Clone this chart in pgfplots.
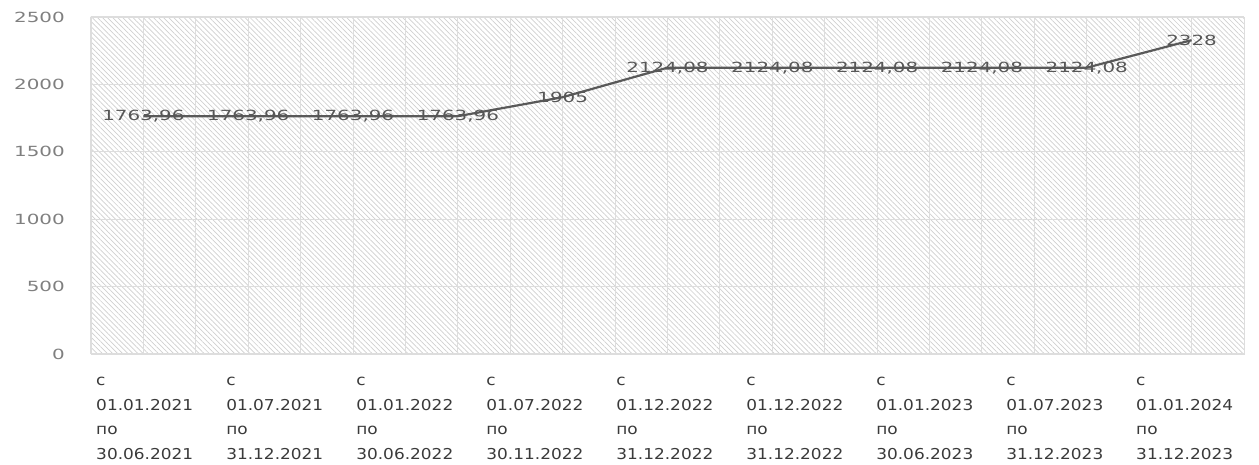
\documentclass[border=0pt]{standalone}
\usepackage{pgfplots}
\pgfplotsset{compat=1.18}
\usepackage{fontspec}
\setmainfont{DejaVu Sans}
\newfontfamily\wfont[FakeStretch=1.42]{DejaVu Sans}
\newfontfamily\dfont[FakeStretch=1.13]{DejaVu Sans}
\usetikzlibrary{patterns.meta}
\definecolor{lineg}{HTML}{595959}
\definecolor{tickg}{HTML}{7F7F7F}
\definecolor{labg}{HTML}{3A3A3A}
\definecolor{gridg}{HTML}{DDDDDD}
\begin{document}
\begin{tikzpicture}
\useasboundingbox (0,0) rectangle (1259pt,465pt);
\begin{axis}[
  at={(91pt,111pt)}, anchor=south west,
  width=1153pt, height=337pt, scale only axis,
  xmin=0, xmax=11, ymin=0, ymax=2500,
  ytick={0,500,...,2500},
  xtick={0.048,1.2885,2.529,3.77,5.01,6.25,7.49,8.73,9.97},
  xticklabels={
    {с\\01.01.2021\\по\\30.06.2021},
    {с\\01.07.2021\\по\\31.12.2021},
    {с\\01.01.2022\\по\\30.06.2022},
    {с\\01.07.2022\\по\\30.11.2022},
    {с\\01.12.2022\\по\\31.12.2022},
    {с\\01.12.2022\\по\\31.12.2022},
    {с\\01.01.2023\\по\\30.06.2023},
    {с\\01.07.2023\\по\\31.12.2023},
    {с\\01.01.2024\\по\\31.12.2023}},
  xticklabel style={anchor=north west, align=left, inner sep=0pt, yshift=-23pt,
    font=\dfont\fontsize{15}{24.5}\selectfont, text=labg},
  minor xtick={0,0.5,...,11},
  xminorgrids=true, xmajorgrids=false, ymajorgrids=true,
  minor x grid style={gridg, line width=1pt},
  major y grid style={gridg, line width=1pt},
  major tick length=0pt, minor tick length=0pt,
  axis line style={draw=gridg},
  yticklabel style={anchor=east, inner sep=0pt, xshift=-26pt,
    font=\wfont\fontsize{14}{16}\selectfont, text=tickg},
  /pgf/number format/assume math mode=true,
  /pgf/number format/1000 sep={},
  axis background/.style={pattern={Lines[angle=-45, distance=3.6pt, line width=0.7pt]}, pattern color=black!19},
  clip=false,
]
\addplot[lineg, line width=2.2pt,
  nodes near coords,
  nodes near coords style={anchor=center, inner sep=0pt, text=labg!85!white,
    font=\wfont\fontsize{14}{16}\selectfont,
    /pgf/number format/.cd, fixed, precision=2, use comma, 1000 sep={}, assume math mode=true},
] coordinates {
(0.5,1763.96) (1.5,1763.96) (2.5,1763.96) (3.5,1763.96) (4.5,1905)
(5.5,2124.08) (6.5,2124.08) (7.5,2124.08) (8.5,2124.08) (9.5,2124.08) (10.5,2328)
};
\end{axis}
\end{tikzpicture}
\end{document}
